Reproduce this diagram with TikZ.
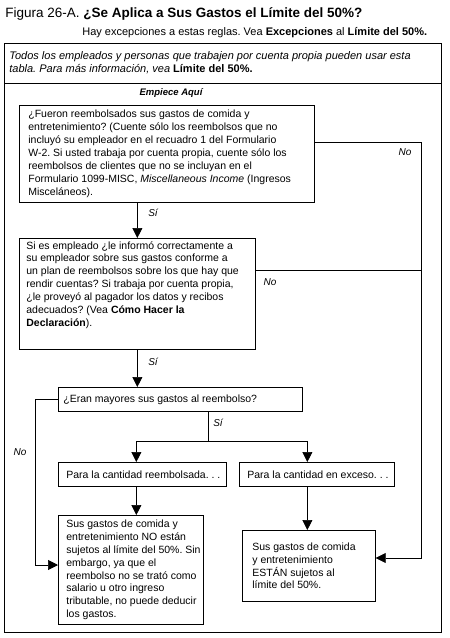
\documentclass[tikz,border=0pt]{standalone}
\usepackage{fontspec}
\setmainfont{Liberation Sans}
\usetikzlibrary{arrows.meta,positioning}
\frenchspacing

\begin{document}
\begin{tikzpicture}
  [x=1pt,y=-1pt,line width=.7pt,>={Triangle[length=10pt,width=10pt]},
   box/.style={draw,rectangle,anchor=north west,inner sep=0pt},
   txt/.style={anchor=west,align=left,inner sep=0pt,font=\fontsize{10.5}{12.9}\selectfont},
   lbl/.style={inner sep=0pt,font=\fontsize{10}{12}\selectfont\itshape}]
  \useasboundingbox (0,0) rectangle (450,638);

  \node[anchor=base west,inner sep=0pt,font=\fontsize{13.5}{16}\selectfont] (title) at (5,17)
    {Figura 26-A. \textbf{¿Se Aplica a Sus Gastos el Límite del 50\%?}};
  \node[anchor=base west,inner sep=0pt,font=\fontsize{11}{13}\selectfont] (sub) at (82,35)
    {Hay excepciones a estas reglas. Vea \textbf{Excepciones} al \textbf{Límite del 50\%.}};

  \draw (4,43) rectangle (441,632);
  \draw (4,83) -- (441,83);
  \node[anchor=north west,align=left,inner sep=0pt,font=\fontsize{11}{13}\selectfont\itshape] (intro) at (9,51)
    {Todos los empleados y personas que trabajen por cuenta propia pueden usar esta\\
     tabla. Para más información, vea \textbf{\upshape Límite del 50\%.}};
  \node[inner sep=0pt,font=\fontsize{9.5}{12}\selectfont\bfseries\itshape] (start) at (171,93) {Empiece Aquí};

  \node[box,minimum width=295pt,minimum height=97pt] (q1) at (19,105) {};
  \node[txt] (q1t) at ([xshift=9pt]q1.west)
    {¿Fueron reembolsados sus gastos de comida y\\
     entretenimiento? (Cuente sólo los reembolsos que no\\
     incluyó su empleador en el recuadro 1 del Formulario\\
     W-2. Si usted trabaja por cuenta propia, cuente sólo los\\
     reembolsos de clientes que no se incluyan en el\\
     Formulario 1099-MISC, \textit{Miscellaneous Income} (Ingresos\\
     Misceláneos).};
  \node[box,minimum width=236pt,minimum height=111pt] (q2) at (19,238) {};
  \node[txt,anchor=north west] (q2t) at ([xshift=7pt,yshift=-3pt]q2.north west)
    {Si es empleado ¿le informó correctamente a\\
     su empleador sobre sus gastos conforme a\\
     un plan de reembolsos sobre los que hay que\\
     rendir cuentas? Si trabaja por cuenta propia,\\
     ¿le proveyó al pagador los datos y recibos\\
     adecuados? (Vea \textbf{Cómo Hacer la}\\
     \textbf{Declaración}).};
  \node[box,minimum width=244pt,minimum height=24pt] (q3) at (58,387) {};
  \node[txt] (q3t) at ([xshift=5pt]q3.west) {¿Eran mayores sus gastos al reembolso?};
  \node[box,minimum width=168pt,minimum height=24pt] (r1) at (58,462) {};
  \node[txt] (r1t) at ([xshift=8pt]r1.west) {Para la cantidad reembolsada. . .};
  \node[box,minimum width=155pt,minimum height=24pt] (r2) at (239,462) {};
  \node[txt] (r2t) at ([xshift=8pt]r2.west) {Para la cantidad en exceso. . .};
  \node[box,minimum width=145pt,minimum height=109pt] (e1) at (58,515) {};
  \node[txt] (e1t) at ([xshift=8pt]e1.west)
    {Sus gastos de comida y\\
     entretenimiento NO están\\
     sujetos al límite del 50\%. Sin\\
     embargo, ya que el\\
     reembolso no se trató como\\
     salario u otro ingreso\\
     tributable, no puede deducir\\
     los gastos.};
  \node[box,minimum width=133pt,minimum height=71pt] (e2) at (242,530) {};
  \node[txt] (e2t) at ([xshift=10pt]e2.west)
    {Sus gastos de comida\\
     y entretenimiento\\
     ESTÁN sujetos al\\
     límite del 50\%.};

  \coordinate (split) at (208,441);
  \coordinate (rside) at (421,558);
  \coordinate (lside) at (35,565);

  \draw[->] (q1.south -| q2.north) -- (q2.north);
  \draw[->] (q2.south) -- (q2.south |- q3.north);
  \draw (q3.south -| split) -- (split);
  \draw[->] (split) -| ([xshift=-6pt]r1.north);
  \draw[->] (split) -| ([xshift=-9.5pt]r2.north);
  \draw[->] ([xshift=-6pt]r1.south) -- ([xshift=-6pt]r1.south |- e1.north);
  \draw[->] ([xshift=-9.5pt]r2.south) -- ([xshift=-9.5pt]r2.south |- e2.north);
  \draw[->] ([yshift=11.5pt]q1.east) -| (rside) -- (e2.east |- rside);
  \draw ([yshift=23.5pt]q2.east) -- ([yshift=23.5pt]q2.east -| rside);
  \draw[->] (q3.west) -| (lside) -- (e1.west |- lside);

  \node[lbl] (si1) at (153,213) {Sí};
  \node[lbl] (si2) at (153,362) {Sí};
  \node[lbl] (si3) at (218,423) {Sí};
  \node[lbl] (no1) at (405,152) {No};
  \node[lbl] (no2) at (270,282) {No};
  \node[lbl] (no3) at (20,452) {No};
\end{tikzpicture}
\end{document}
